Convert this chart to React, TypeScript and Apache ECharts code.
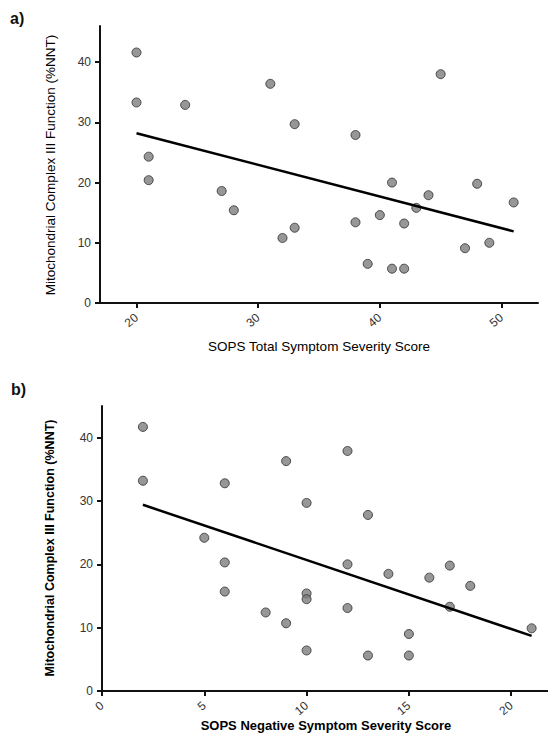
import React, { useEffect, useRef } from "react";
import * as echarts from "echarts";

// Panel a) SOPS Total Symptom Severity Score vs Complex III function
const totalScore = [20, 20, 24, 21, 21, 27, 28, 31, 45, 33, 38, 41, 48, 44, 43, 51, 40, 38, 42, 33, 32, 47, 49, 39, 41, 42];
const complexA = [41.6, 33.3, 32.9, 24.3, 20.4, 18.6, 15.4, 36.4, 38.0, 29.7, 27.9, 20.0, 19.8, 17.9, 15.8, 16.7, 14.6, 13.4, 13.2, 12.5, 10.8, 9.1, 10.0, 6.5, 5.7, 5.7];
const fitA = [[20, 28.2], [51, 11.9]];

// Panel b) SOPS Negative Symptom Severity Score vs Complex III function
const negScore = [2, 2, 6, 5, 6, 6, 8, 9, 12, 10, 13, 12, 17, 14, 16, 18, 10, 10, 12, 17, 9, 21, 15, 10, 13, 15];
const complexB = [41.7, 33.2, 32.8, 24.2, 20.3, 15.7, 12.4, 36.3, 37.9, 29.7, 27.8, 20.0, 19.8, 18.5, 17.9, 16.6, 15.4, 14.5, 13.1, 13.3, 10.7, 9.9, 9.0, 6.4, 5.6, 5.6];
const fitB = [[2, 29.4], [21, 8.7]];

const xTicksA = [20, 30, 40, 50];
const xTicksB = [0, 5, 10, 15, 20];
const yTicks = [0, 10, 20, 30, 40];

const yTitle = "Mitochondrial Complex III Function (%NNT)";
const xTitleA = "SOPS Total Symptom Severity Score";
const xTitleB = "SOPS Negative Symptom Severity Score";

const FONT = "Liberation Sans";

export default function App() {
  const ref = useRef<HTMLDivElement>(null);
  useEffect(() => {
    if (!ref.current) return;
    const chart = echarts.init(ref.current, null, { renderer: "svg" });
    const mkLine = () => ({ show: true, lineStyle: { color: "#111", width: 2 } });
    const mkTick = (vals: number[]) => ({ show: true, length: 5, customValues: vals, lineStyle: { color: "#111", width: 2 } });
    const mkYLabel = () => ({ color: "#333", fontSize: 12, fontFamily: FONT, margin: 9, customValues: yTicks });
    const mkXLabel = (vals: number[]) => ({ color: "#333", fontSize: 12, fontFamily: FONT, rotate: 40, margin: 13, customValues: vals });
    const scatterStyle = { color: "#7d7d7d", borderColor: "#2a2a2a", borderWidth: 1 };
    chart.setOption({
      animation: false,
      backgroundColor: "#fff",
      textStyle: { fontFamily: FONT },
      graphic: [
        { type: "text", left: 10, top: 10, style: { text: "a)", font: "bold 16px " + FONT, fill: "#111" } },
        { type: "text", left: 11, top: 381, style: { text: "b)", font: "bold 16px " + FONT, fill: "#111" } },
        {
          type: "text",
          x: 50,
          y: 165,
          rotation: Math.PI / 2,
          style: { text: yTitle, font: "13.5px " + FONT, fill: "#000", align: "center", verticalAlign: "middle" },
        },
        {
          type: "text",
          x: 50,
          y: 548,
          rotation: Math.PI / 2,
          style: { text: yTitle, font: "bold 12.5px " + FONT, fill: "#000", align: "center", verticalAlign: "middle" },
        },
        {
          type: "text",
          x: 319,
          y: 346,
          style: { text: xTitleA, font: "13.5px " + FONT, fill: "#000", align: "center", verticalAlign: "middle" },
        },
        {
          type: "text",
          x: 326,
          y: 725,
          style: { text: xTitleB, font: "bold 13px " + FONT, fill: "#000", align: "center", verticalAlign: "middle" },
        },
      ],
      grid: [
        { left: 100, top: 26, width: 438, height: 277 },
        { left: 102, top: 406, width: 446, height: 285 },
      ],
      xAxis: [
        {
          gridIndex: 0,
          type: "value",
          min: 17,
          max: 53,
          splitLine: { show: false },
          axisLine: mkLine(),
          axisTick: mkTick(xTicksA),
          axisLabel: mkXLabel(xTicksA),
        },
        {
          gridIndex: 1,
          type: "value",
          min: 0,
          max: 21.8,
          interval: 5,
          splitLine: { show: false },
          axisLine: mkLine(),
          axisTick: mkTick(xTicksB),
          axisLabel: mkXLabel(xTicksB),
        },
      ],
      yAxis: [
        {
          gridIndex: 0,
          type: "value",
          min: 0,
          max: 46,
          interval: 10,
          splitLine: { show: false },
          axisLine: mkLine(),
          axisTick: mkTick(yTicks),
          axisLabel: mkYLabel(),
        },
        {
          gridIndex: 1,
          type: "value",
          min: 0,
          max: 45,
          interval: 10,
          splitLine: { show: false },
          axisLine: mkLine(),
          axisTick: mkTick(yTicks),
          axisLabel: mkYLabel(),
        },
      ],
      series: [
        {
          type: "line",
          xAxisIndex: 0,
          yAxisIndex: 0,
          data: fitA,
          symbol: "none",
          lineStyle: { color: "#000", width: 2.5 },
        },
        {
          type: "scatter",
          xAxisIndex: 0,
          yAxisIndex: 0,
          data: totalScore.map((x, i) => [x, complexA[i]]),
          symbolSize: 9,
          itemStyle: scatterStyle,
        },
        {
          type: "line",
          xAxisIndex: 1,
          yAxisIndex: 1,
          data: fitB,
          symbol: "none",
          lineStyle: { color: "#000", width: 2.5 },
        },
        {
          type: "scatter",
          xAxisIndex: 1,
          yAxisIndex: 1,
          data: negScore.map((x, i) => [x, complexB[i]]),
          symbolSize: 9,
          itemStyle: scatterStyle,
        },
      ],
    });
    return () => chart.dispose();
  }, []);
  return <div ref={ref} style={{ position: "absolute", left: 0, top: 0, width: 548, height: 742 }} />;
}
